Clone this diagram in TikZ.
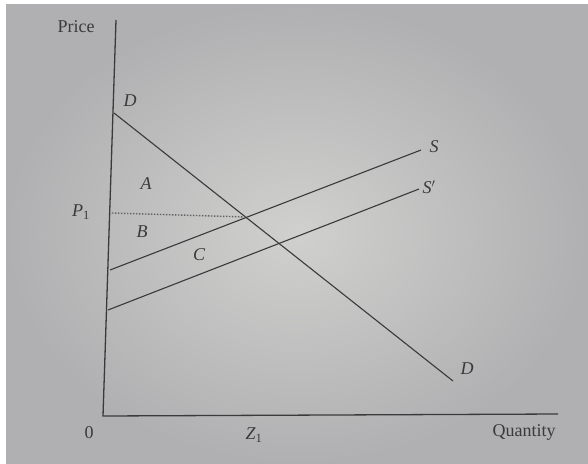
\documentclass[tikz,border=0pt]{standalone}
\usepackage{fontspec}
\setmainfont{Liberation Serif}
\definecolor{paperin}{RGB}{208,208,206}
\definecolor{paperout}{RGB}{176,176,178}
\definecolor{ink}{RGB}{58,58,60}
\begin{document}
\begin{tikzpicture}[x=1pt,y=-1pt,
  curve/.style={draw=ink,line width=1.1pt},
  axisline/.style={draw=ink,line width=1.3pt},
  lbl/.style={text=ink,inner sep=0pt,font=\fontsize{18}{21}\selectfont},
  ilbl/.style={lbl,font=\fontsize{18}{21}\selectfont\itshape}]
\useasboundingbox (0,0) rectangle (588,463);
\fill[white] (0,0) rectangle (588,463);
\shade[inner color=paperin,outer color=paperout] (6,4) rectangle (588,463);
% axes
\coordinate (ytop) at (116,20);
\coordinate (orig) at (103,416);
\coordinate (xend) at (558,414);
\draw[axisline] (ytop) -- (orig) -- (xend);
% demand
\coordinate (d1) at (114,113);
\coordinate (d2) at (453,381);
\draw[curve] (d1) -- (d2);
% supply S and S'
\coordinate (s1) at (110,270);
\coordinate (s2) at (421,150);
\draw[curve] (s1) -- (s2);
\coordinate (t1) at (108,310);
\coordinate (t2) at (419,189);
\draw[curve] (t1) -- (t2);
% P1 dotted
\coordinate (p0) at (112,213);
\coordinate (pe) at (246,217);
\draw[ink!80,line width=1.4pt,dash pattern=on 1.4pt off 1.6pt] (p0) -- (pe);
% labels
\node[lbl] (price) at (76,27) {Price};
\node[lbl] (qty) at (524,432) {Quantity};
\node[lbl] (zero) at (89,433) {0};
\node[ilbl] (z1) at (254,435) {Z\textsubscript{\upshape 1}};
\node[ilbl] (p1) at (81,212) {P\textsubscript{\upshape 1}};
\node[ilbl] (dtop) at (130,101) {D};
\node[ilbl] (dbot) at (467,369) {D};
\node[ilbl] (slab) at (434,147) {S};
\node[ilbl] (s2lab) at (429,187) {S$'$};
\node[ilbl] (a) at (146,184) {A};
\node[ilbl] (b) at (142,232) {B};
\node[ilbl] (c) at (199,255) {C};
\end{tikzpicture}
\end{document}
